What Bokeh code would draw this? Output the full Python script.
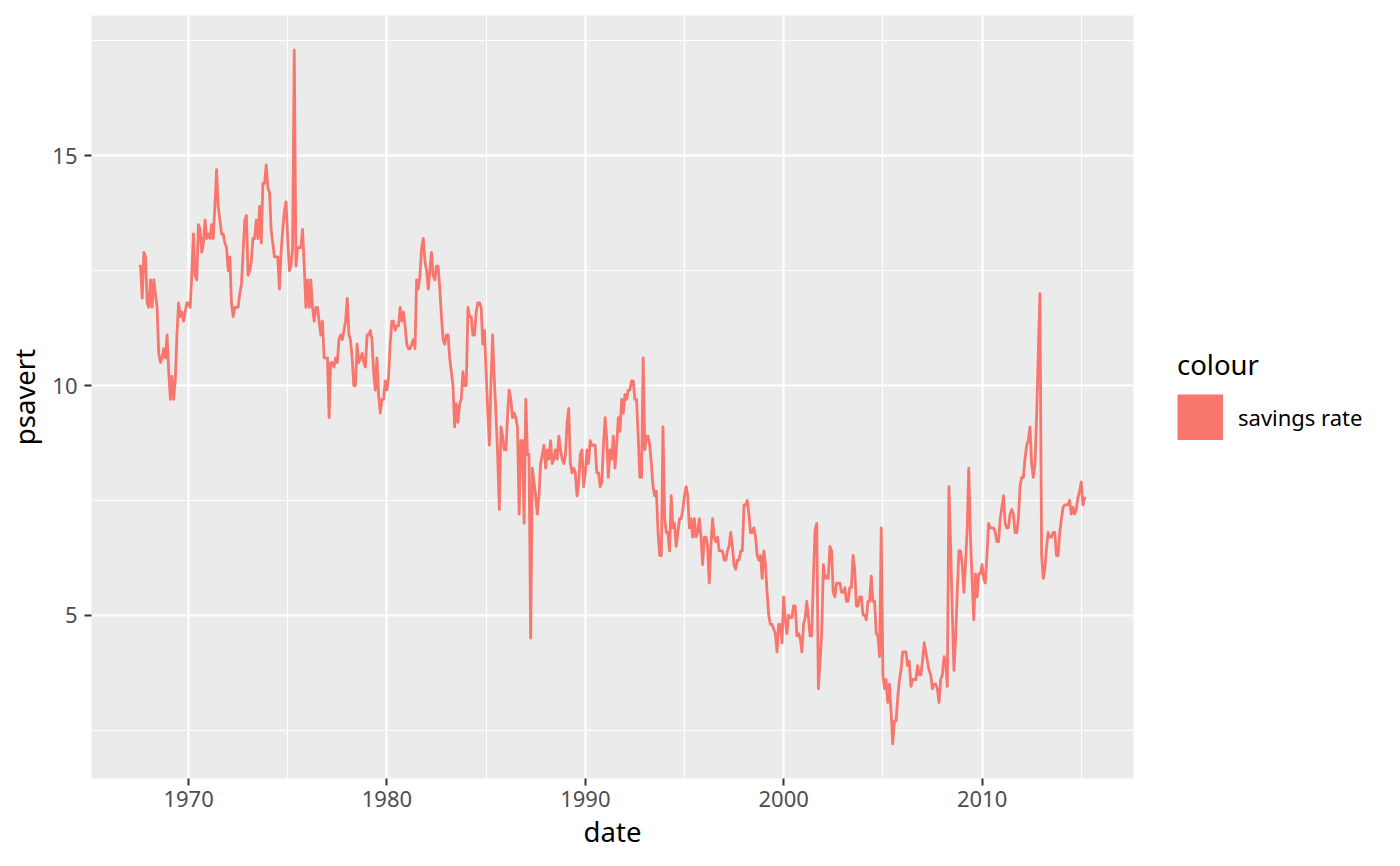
import pandas as pd
from bokeh.plotting import figure
from bokeh.layouts import row
from bokeh.models import (Range1d, FixedTicker, DatetimeTickFormatter, Legend,
                          LegendItem, ColumnDataSource)
from bokeh.embed import file_html
from bokeh.resources import INLINE

# ---------------- data (monthly personal savings rate, from 1967-07) ----------------
start_month = "1967-07-01"
series_label = "savings rate"
legend_title = "colour"

psavert_1967_1969 = [
    12.6, 12.6, 11.9, 12.9, 12.8, 11.8,
    11.7, 12.3, 11.7, 12.3, 12.0, 11.7, 10.7, 10.5, 10.6, 10.8, 10.6, 11.1,
    10.3, 9.7, 10.2, 9.7, 10.1, 11.1, 11.8, 11.5, 11.6, 11.4, 11.6, 11.8,
]
psavert_1970s = [
    11.8, 11.7, 12.4, 13.3, 12.4, 12.3, 13.5, 13.4, 12.9, 13.1, 13.6, 13.2,
    13.3, 13.2, 13.5, 13.2, 13.9, 14.7, 13.9, 13.6, 13.3, 13.3, 13.1, 13.0,
    12.5, 12.8, 11.8, 11.5, 11.7, 11.7, 11.7, 12.0, 12.2, 12.9, 13.6, 13.7,
    12.4, 12.5, 12.7, 13.2, 13.2, 13.6, 13.2, 13.9, 13.1, 14.4, 14.4, 14.8,
    14.3, 14.2, 13.4, 13.1, 12.8, 12.8, 12.8, 12.1, 12.9, 13.4, 13.8, 14.0,
    13.2, 12.5, 12.6, 13.0, 17.3, 12.6, 13.0, 13.0, 13.0, 13.4, 12.6, 11.7,
    12.3, 11.7, 12.3, 11.7, 11.4, 11.7, 11.7, 11.4, 11.1, 11.4, 10.6, 10.6,
    10.6, 9.3, 10.5, 10.5, 10.4, 10.6, 10.5, 11.0, 11.1, 11.0, 11.2, 11.4,
    11.9, 11.1, 11.0, 10.6, 10.0, 10.0, 10.9, 10.5, 10.6, 10.7, 10.5, 10.4,
    11.1, 11.1, 11.2, 11.0, 10.3, 9.9, 10.6, 9.8, 9.4, 9.7, 9.7, 10.1,
]
psavert_1980s = [
    9.9, 10.2, 10.9, 11.4, 11.4, 11.2, 11.3, 11.3, 11.7, 11.4, 11.6, 11.3,
    10.9, 10.8, 10.8, 10.9, 11.0, 10.8, 12.3, 12.1, 12.4, 13.0, 13.2, 12.7,
    12.5, 12.1, 12.5, 12.9, 12.4, 12.3, 12.6, 12.6, 12.1, 11.5, 11.0, 10.9,
    11.1, 11.1, 10.6, 10.3, 10.0, 9.1, 9.6, 9.2, 9.6, 9.7, 10.3, 10.0,
    10.0, 11.7, 11.5, 11.5, 11.1, 11.1, 11.6, 11.8, 11.8, 11.7, 10.9, 11.2,
    10.3, 9.4, 8.7, 10.1, 11.1, 10.1, 9.4, 8.5, 7.3, 9.1, 8.9, 8.6,
    8.6, 9.4, 9.9, 9.7, 9.3, 9.4, 9.3, 9.1, 7.2, 8.8, 8.8, 7.0,
    9.7, 8.5, 8.5, 4.5, 8.2, 7.9, 7.6, 7.2, 7.6, 8.3, 8.5, 8.7,
    8.2, 8.6, 8.4, 8.8, 8.3, 8.4, 8.6, 8.4, 8.9, 8.6, 8.4, 8.3,
    8.5, 9.2, 9.5, 8.3, 8.1, 8.2, 8.1, 7.6, 7.9, 8.5, 8.6, 7.8,
]
psavert_1990s = [
    8.1, 8.6, 8.3, 8.8, 8.7, 8.7, 8.7, 8.1, 8.1, 7.8, 7.9, 8.7,
    9.3, 8.8, 8.0, 8.6, 8.4, 8.9, 8.2, 8.7, 9.3, 9.0, 9.7, 9.4,
    9.8, 9.7, 9.9, 9.9, 10.1, 10.1, 9.7, 9.7, 8.9, 8.0, 8.0, 10.6,
    8.6, 8.9, 8.9, 8.7, 8.3, 7.8, 7.6, 7.7, 6.8, 6.3, 6.3, 9.1,
    7.1, 6.8, 6.8, 6.4, 7.6, 6.9, 7.0, 6.5, 6.8, 7.1, 7.1, 7.3,
    7.6, 7.8, 7.6, 6.9, 7.1, 6.7, 7.1, 6.7, 6.8, 7.1, 6.7, 6.1,
    6.7, 6.7, 6.5, 5.7, 6.5, 7.1, 6.7, 6.6, 6.7, 6.4, 6.4, 6.4,
    6.2, 6.2, 6.4, 6.5, 6.8, 6.5, 6.1, 6.0, 6.2, 6.2, 6.4, 6.4,
    7.4, 7.4, 7.5, 7.2, 6.8, 6.8, 6.9, 6.7, 6.3, 6.2, 6.3, 5.8,
    6.4, 6.1, 5.5, 5.0, 4.8, 4.8, 4.7, 4.6, 4.2, 4.8, 4.8, 4.4,
]
psavert_2000s = [
    5.4, 4.9, 4.6, 5.0, 4.95, 4.95, 5.2, 5.2, 4.55, 4.6, 4.5, 4.2,
    4.8, 4.95, 5.3, 4.95, 4.55, 4.55, 5.8, 6.85, 7.0, 3.4, 4.0, 4.6,
    6.1, 5.8, 5.85, 5.8, 6.5, 6.4, 5.5, 5.4, 5.7, 5.7, 5.7, 5.5,
    5.5, 5.6, 5.3, 5.3, 5.6, 5.6, 6.3, 6.0, 5.2, 5.2, 5.4, 5.4,
    5.0, 5.0, 4.9, 5.3, 5.3, 5.85, 5.3, 5.3, 4.6, 4.55, 4.1, 6.9,
    3.7, 3.4, 3.6, 3.1, 3.5, 2.9, 2.2, 2.7, 2.7, 3.2, 3.6, 3.8,
    4.2, 4.2, 4.2, 3.9, 4.0, 3.45, 3.6, 3.6, 3.6, 3.9, 3.7, 3.7,
    4.0, 4.4, 4.2, 4.0, 3.8, 3.7, 3.4, 3.5, 3.5, 3.4, 3.1, 3.6,
    3.7, 4.1, 4.0, 3.45, 7.8, 6.5, 5.1, 3.8, 4.5, 5.5, 6.4, 6.4,
    6.1, 5.5, 6.1, 6.85, 8.2, 6.7, 5.8, 4.9, 5.9, 5.4, 5.9, 5.9,
]
psavert_2010s = [
    6.1, 5.8, 5.7, 6.3, 7.0, 6.9, 6.9, 6.9, 6.8, 6.6, 6.6, 7.1,
    7.35, 7.6, 7.0, 6.9, 6.9, 7.2, 7.3, 7.2, 6.8, 6.8, 7.1, 7.8,
    8.0, 8.0, 8.4, 8.7, 8.8, 9.1, 8.3, 8.0, 8.3, 9.3, 10.7, 12.0,
    6.3, 5.8, 6.0, 6.45, 6.8, 6.7, 6.7, 6.8, 6.8, 6.3, 6.3, 6.8,
    7.1, 7.35, 7.4, 7.4, 7.4, 7.5, 7.2, 7.35, 7.2, 7.3, 7.55, 7.7,
    7.9, 7.4, 7.55, 7.55,
]

x_major_years = [1970, 1980, 1990, 2000, 2010]
x_minor_years = [1975, 1985, 1995, 2005, 2015]
y_major = [5, 10, 15]
y_minor = [2.5, 7.5, 12.5, 17.5]

# ---------------- build ----------------
values = (psavert_1967_1969 + psavert_1970s + psavert_1980s + psavert_1990s
          + psavert_2000s + psavert_2010s)
dates = pd.date_range(start_month, periods=len(values), freq="MS")
source = ColumnDataSource(data=dict(date=dates, psavert=values))

LINE_COLOR = "#F8766D"
FONT = "Noto Sans"

# ggplot-style 5% expansion
t0, t1 = dates[0], dates[-1]
tspan = t1 - t0
x_start = t0 - 0.05 * tspan
x_end = t1 + 0.05 * tspan
vmin, vmax = min(values), max(values)
vspan = vmax - vmin
y_start = vmin - 0.05 * vspan
y_end = vmax + 0.05 * vspan

p = figure(frame_width=1042, frame_height=763,
           x_axis_type="datetime",
           x_range=Range1d(x_start, x_end), y_range=Range1d(y_start, y_end),
           output_backend="svg", toolbar_location=None,
           min_border_left=91, min_border_right=20,
           min_border_top=15, min_border_bottom=87)

p.background_fill_color = "#EBEBEB"
p.border_fill_color = "white"
p.outline_line_color = None

to_ms = lambda y: pd.Timestamp(f"{y}-01-01").value // 10**6
xt = FixedTicker(ticks=[to_ms(y) for y in x_major_years],
                 minor_ticks=[to_ms(y) for y in x_minor_years])
yt = FixedTicker(ticks=y_major, minor_ticks=y_minor)
p.xaxis.ticker = xt
p.xgrid.ticker = xt
p.yaxis.ticker = yt
p.ygrid.ticker = yt
p.xaxis.formatter = DatetimeTickFormatter(years="%Y", months="%Y", days="%Y",
                                          hours="%Y", minutes="%Y", seconds="%Y")

for g in (p.xgrid, p.ygrid):
    g.grid_line_color = "white"
    g.grid_line_width = 2.2
    g.minor_grid_line_color = "white"
    g.minor_grid_line_width = 1.1

for ax in (p.xaxis, p.yaxis):
    ax.axis_line_color = None
    ax.major_tick_line_color = "#333333"
    ax.major_tick_line_width = 2
    ax.major_tick_out = 7
    ax.major_tick_in = 0
    ax.minor_tick_out = 0
    ax.minor_tick_in = 0
    ax.major_label_text_font = FONT
    ax.major_label_text_font_size = "22px"
    ax.major_label_text_color = "#4D4D4D"
    ax.axis_label_text_font = FONT
    ax.axis_label_text_font_size = "27.5px"
    ax.axis_label_text_font_style = "normal"
    ax.axis_label_text_color = "black"

p.xaxis.axis_label = "date"
p.yaxis.axis_label = "psavert"
p.xaxis.major_label_standoff = 5
p.yaxis.major_label_standoff = 7
p.xaxis.axis_label_standoff = 3
p.yaxis.axis_label_standoff = 6

p.line(x="date", y="psavert", source=source, line_color=LINE_COLOR,
       line_width=2.8, line_join="round")

# ---------------- legend panel (separate figure to the right) ----------------
pl = figure(width=240, height=866, min_border=0,
            x_range=Range1d(0, 1), y_range=Range1d(0, 1),
            x_axis_location=None, y_axis_location=None,
            output_backend="svg", toolbar_location=None)
pl.outline_line_color = None
pl.background_fill_color = "white"
pl.border_fill_color = "white"
pl.xgrid.visible = False
pl.ygrid.visible = False

# legend key: a wide butt-capped line renders as a filled square
# (its own points lie outside the visible range, only the legend shows it)
key = pl.line(x=[5, 6], y=[5, 5], line_color=LINE_COLOR, line_width=46,
              line_cap="butt")
legend = Legend(items=[LegendItem(label=series_label, renderers=[key])],
                title=legend_title, location=(24, 339),
                glyph_width=46, glyph_height=46, label_height=46,
                label_standoff=15, padding=0, spacing=0, margin=0,
                title_standoff=11,
                border_line_color=None, background_fill_alpha=0)
legend.title_text_font = FONT
legend.title_text_font_size = "27.5px"
legend.title_text_font_style = "normal"
legend.title_text_color = "black"
legend.label_text_font = FONT
legend.label_text_font_size = "22px"
legend.label_text_color = "black"
pl.add_layout(legend, "center")

layout = row(p, pl)
open("out.html", "w").write(file_html(layout, INLINE))
